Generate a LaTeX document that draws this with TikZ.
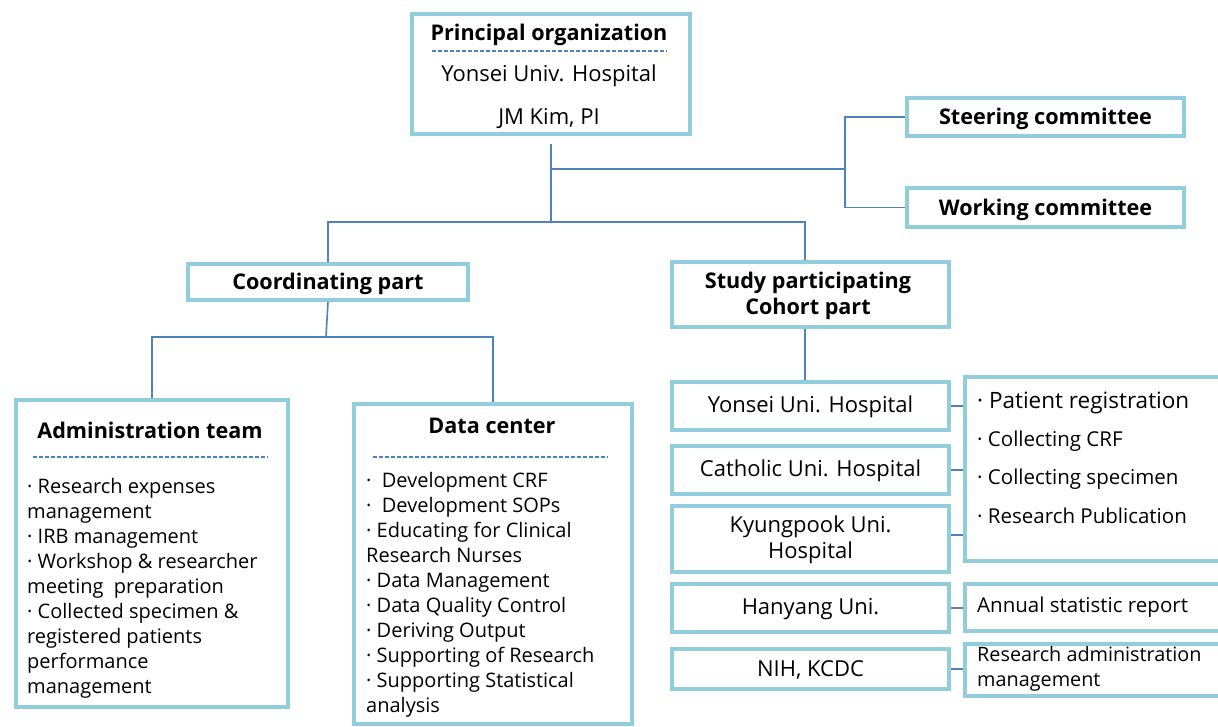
\documentclass[tikz,border=0pt]{standalone}
\usepackage{fontspec}
\setmainfont{Open Sans}
\definecolor{boxline}{HTML}{92CDDC}
\definecolor{linkline}{HTML}{4F81BD}
\begin{document}
\begin{tikzpicture}[x=1pt,y=-1pt,
  box/.style={draw=boxline,line width=4pt,fill=white,inner sep=0pt,anchor=north west},
  conn/.style={draw=linkline,line width=1.6pt},
  sep/.style={draw=linkline,line width=1.4pt,dash pattern=on 4pt off 2pt},
  ttl/.style={font=\fontsize{21.6}{26}\selectfont\bfseries,inner sep=0pt,align=center},
  txt/.style={font=\fontsize{22}{26}\selectfont,inner sep=0pt,align=center},
  lst/.style={font=\fontsize{20}{25}\selectfont,inner sep=0pt,align=left,anchor=north west},
  rol/.style={font=\fontsize{20.5}{25}\selectfont,inner sep=0pt,align=left,anchor=west}]
\useasboundingbox (0,0) rectangle (1218,726);
\clip (0,0) rectangle (1218,726);
\fill[white] (0,0) rectangle (1218,726);

% boxes
\node[box,minimum width=278,minimum height=120] (po) at (410,12) {};
\node[box,minimum width=277,minimum height=38] (sc) at (905,96) {};
\node[box,minimum width=277,minimum height=39] (wc) at (905,186) {};
\node[box,minimum width=280,minimum height=36] (cp) at (186,262) {};
\node[box,minimum width=277,minimum height=65] (sp) at (670,260) {};
\node[box,minimum width=272,minimum height=307] (at) at (14,398) {};
\node[box,minimum width=278,minimum height=320] (dc) at (352,402) {};
\node[box,minimum width=277,minimum height=48] (h1) at (670,380) {};
\node[box,minimum width=277,minimum height=48] (h2) at (670,444) {};
\node[box,minimum width=277,minimum height=66] (h3) at (670,504) {};
\node[box,minimum width=277,minimum height=48] (h4) at (670,582) {};
\node[box,minimum width=277,minimum height=40] (h5) at (670,647) {};
\node[box,minimum width=280,minimum height=184] (r1) at (963,375) {};
\node[box,minimum width=280,minimum height=47] (r2) at (963,582) {};
\node[box,minimum width=280,minimum height=52] (r3) at (963,642) {};

% junction points
\coordinate (j1) at (549,222);
\coordinate (j2) at (845,169);
\coordinate (j3) at (326,337);

% connectors
\draw[conn] ([yshift=-8pt]po.south) -- (po.south |- j1) -| (cp.north);
\draw[conn] (j1) -| ([xshift=-5.5pt]sp.north);
\draw[conn] (po.south |- j2) -- (j2);
\draw[conn] (sc.west) -| (j2) |- (wc.west);
\draw[conn] (cp.south) -- (j3);
\draw[conn] (at.north) |- (j3) -| (dc.north);
\draw[conn] ([xshift=-5.5pt]sp.south) -- ([xshift=-5.5pt]sp.south |- h1.north);
\draw[conn] (h1.east) -- (h1.east -| r1.west);
\draw[conn] (h2.east) -- (h2.east -| r1.west);
\draw[conn] ([yshift=4pt]h3.east) -- ([yshift=4pt]h3.east -| r1.west);
\draw[conn] (h4.east) -- (h4.east -| r2.west);
\draw[conn] (h5.east) -- (h5.east -| r3.west);

% principal organization
\node[ttl] (poT) at (549,35) {Principal organization};
\draw[sep] (432,51) -- (667,51);
\node[txt] (poA) at (549,76) {Yonsei Univ. Hospital};
\node[txt] (poB) at (549,118) {JM Kim, PI};

% committees and parts
\node[ttl] (scT) at ([yshift=-2pt]sc.center) {Steering committee};
\node[ttl] (wcT) at ([yshift=-2pt]wc.center) {Working committee};
\node[ttl] (cpT) at ([yshift=-2pt]cp.center) {Coordinating part};
\node[ttl] (spT) at (808,296) {Study participating\\Cohort part};

% administration team
\node[ttl] (atT) at (150,430) {Administration team};
\draw[sep] (33,457) -- (268,457);
\node[lst] (atL) at (27,478) {· Research expenses\\management\\· IRB management\\· Workshop \& researcher\\meeting~~preparation\\· Collected specimen \&\\registered patients\\performance\\management};

% data center
\node[ttl] (dcT) at (492,426) {Data center};
\draw[sep] (373,457) -- (608,457);
\node[lst] (dcL) at (366,472) {·~~Development CRF\\·~~Development SOPs\\· Educating for Clinical\\Research Nurses\\· Data Management\\· Data Quality Control\\· Deriving Output\\· Supporting of Research\\· Supporting Statistical\\analysis};

% participating institutions
\node[txt] (h1T) at ([yshift=-1pt]h1.center) {Yonsei Uni. Hospital};
\node[txt] (h2T) at ([yshift=-1pt]h2.center) {Catholic Uni. Hospital};
\node[txt] (h3T) at ([yshift=-1pt]h3.center) {Kyungpook Uni.\\Hospital};
\node[txt] (h4T) at ([yshift=-1pt]h4.center) {Hanyang Uni.};
\node[txt] (h5T) at ([yshift=-1pt]h5.center) {NIH, KCDC};

% roles
\node[rol,font=\fontsize{22.5}{25}\selectfont] (r1a) at (977,403) {·~Patient registration};
\node[rol] (r1b) at (977,441) {· Collecting CRF};
\node[rol] (r1c) at (977,479) {· Collecting specimen};
\node[rol] (r1d) at (977,516) {· Research Publication};
\node[rol] (r2T) at (977,607) {Annual statistic report};
\node[rol,font=\fontsize{19.8}{25}\selectfont] (r3T) at (977,669) {Research administration\\management};
\end{tikzpicture}
\end{document}
